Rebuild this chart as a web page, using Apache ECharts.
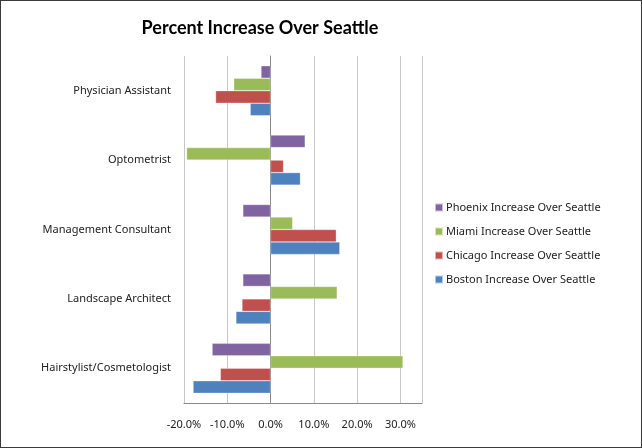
<!DOCTYPE html>
<html>
<head>
<meta charset="utf-8">
<script src="https://cdn.jsdelivr.net/npm/echarts@6/dist/echarts.min.js"></script>
<style>
  html, body { margin: 0; padding: 0; background: #fff; }
  #chart { width: 640px; height: 446px; border: 1px solid #3a3a3a; }
</style>
</head>
<body>
<div id="chart"></div>
<script>
// categories, bottom to top
const jobs = ['Hairstylist/Cosmetologist', 'Landscape Architect', 'Management Consultant', 'Optometrist', 'Physician Assistant'];
// series, top of each group first
const seriesNames = ['Phoenix Increase Over Seattle', 'Miami Increase Over Seattle', 'Chicago Increase Over Seattle', 'Boston Increase Over Seattle'];
const phoenix = [-13.5, -6.4, -6.4, 8.0, -2.2];
const miami = [30.6, 15.4, 5.1, -19.4, -8.5];
const chicago = [-11.6, -6.6, 15.2, 3.0, -12.7];
const boston = [-17.9, -8.0, 16.0, 6.9, -4.7];
const colors = ['#8064A2', '#9BBB59', '#C0504D', '#4F81BD'];

const chart = echarts.init(document.getElementById('chart'));
const font = 'Noto Sans';

const values = [phoenix, miami, chicago, boston];
chart.setOption({
  animation: false,
  title: {
    text: 'Percent Increase Over Seattle',
    left: 254, top: 13, textAlign: 'center',
    textStyle: { fontFamily: 'Lato', fontSize: 18, fontWeight: 'bold', color: '#000' }
  },
  legend: {
    orient: 'vertical',
    left: 428, top: 196,
    itemWidth: 8, itemHeight: 8, itemGap: 13,
    icon: 'rect',
    data: seriesNames,
    textStyle: { fontFamily: font, fontSize: 11, color: '#222', padding: [0, 0, 0, -2] }
  },
  grid: { left: 183, right: 219, top: 55, bottom: 44, containLabel: false, outerBoundsMode: 'none' },
  xAxis: {
    type: 'value',
    min: -20, max: 35, interval: 10,
    axisLine: { show: true, lineStyle: { color: '#8a8a8a' } },
    axisTick: { show: false },
    splitLine: { lineStyle: { color: '#c8c8c8', width: 1 } },
    axisLabel: {
      fontFamily: font, fontSize: 11, color: '#222', margin: 16,
      showMinLabel: true, showMaxLabel: false, hideOverlap: false,
      formatter: v => v.toFixed(1) + '%'
    }
  },
  yAxis: {
    type: 'category',
    data: jobs,
    axisLine: { show: true, onZero: true, lineStyle: { color: '#8a8a8a' } },
    axisTick: { show: false },
    axisLabel: { fontFamily: font, fontSize: 11, color: '#222', margin: 13 }
  },
  series: seriesNames.map((name, i) => ({
    name: name,
    type: 'bar',
    data: values[i],
    barGap: '0%',
    barCategoryGap: '28%',
    itemStyle: { color: colors[i], borderColor: 'rgba(255,255,255,0.6)', borderWidth: 0.5 }
  }))
});
</script>
</body>
</html>
